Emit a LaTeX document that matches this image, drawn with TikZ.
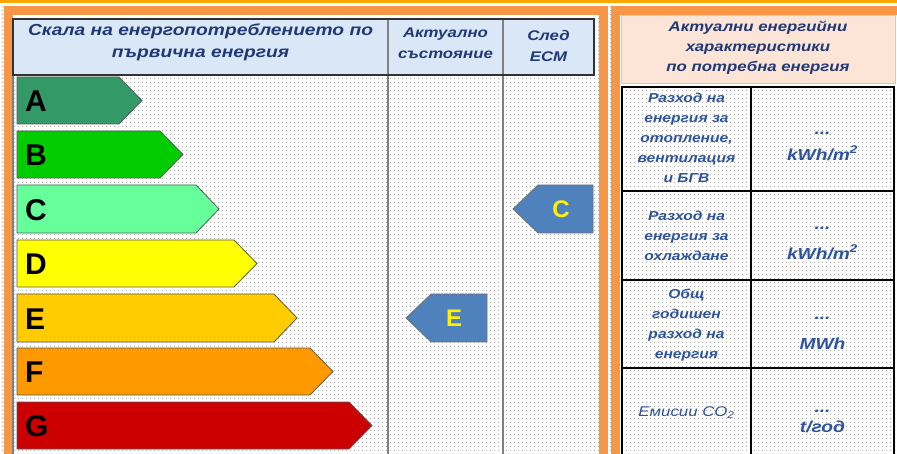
\documentclass[tikz,border=0pt]{standalone}
\usepackage{fontspec}
\usepackage{xcolor}
\usepackage{tikz}
\setmainfont{Liberation Sans}
\newfontfamily\widefont{Liberation Sans}[FakeStretch=1.2]
\usetikzlibrary{
    calc,
    patterns.meta,
    positioning,
}
\definecolor{classA}{RGB}{51,153,102}
\definecolor{classB}{RGB}{0,204,0}
\definecolor{classC}{RGB}{102,255,153}
\definecolor{classD}{RGB}{255,255,0}
\definecolor{classE}{RGB}{255,204,0}
\definecolor{classF}{RGB}{255,153,0}
\definecolor{classG}{RGB}{204,0,0}
\definecolor{markerBlue}{RGB}{79,129,189}
\definecolor{frameOrange}{RGB}{247,150,70}
\definecolor{headBlue}{RGB}{218,231,246}
\definecolor{headPeach}{RGB}{252,228,214}
\definecolor{textBlue}{RGB}{32,56,118}
\definecolor{labelBlue}{RGB}{44,84,160}

\begin{document}
\begin{tikzpicture}[x=1pt,y=-1pt]

                \tikzstyle{commonText}=[align=center, inner sep=0pt, text=textBlue]
                \tikzstyle{headText}=[commonText, font=\widefont\bfseries\itshape\fontsize{16}{22}\selectfont]
                \tikzstyle{colText}=[commonText, font=\widefont\bfseries\itshape\fontsize{14}{21}\selectfont]
                \tikzstyle{charText}=[commonText, font=\widefont\bfseries\itshape\fontsize{14}{20}\selectfont]
                \tikzstyle{rowText}=[commonText, text=labelBlue, font=\widefont\bfseries\itshape\fontsize{13}{20}\selectfont]
                \tikzstyle{valueText}=[commonText, text=labelBlue, font=\widefont\bfseries\itshape\fontsize{16}{20}\selectfont]
                \tikzstyle{classBar}=[draw=black!65, line width=0.8pt]
                \tikzstyle{classLetter}=[anchor=west, inner sep=0pt, font=\bfseries\fontsize{30}{30}\selectfont]
                \tikzstyle{marker}=[draw=black!55, line width=0.8pt, fill=markerBlue]
                \tikzstyle{markerLetter}=[inner sep=0pt, text=yellow, font=\bfseries\fontsize{24}{24}\selectfont]
                \tikzstyle{frame}=[draw=frameOrange, line width=9pt]
                \tikzstyle{gridLine}=[draw=gray, line width=1.2pt]
                \tikzstyle{tableLine}=[draw=black, line width=1.8pt]

                \useasboundingbox (0,0) rectangle (897,454);

                % Background and frames
                \fill[white] (0,0) rectangle (897,454);
                \fill[pattern={Dots[distance=4pt, radius=0.7pt]}, pattern color=gray!70] (0,0) rectangle (897,454);
                \draw[line width=3pt, draw=orange!70!yellow] (0,1.5) -- (897,1.5);
                \draw[frame] (8,470) -- (8,11) -- (603,11) -- (603,470);
                \draw[frame] (615,470) -- (615,11) -- (910,11);

                \begin{scope}

                    \def \barleft {17}
                    \def \tipdepth {23}

                    % Scale table
                    \fill[headBlue] (13,19) rectangle (594,75);
                    \draw[gridLine] (13,75) -- (13,454);
                    \draw[gridLine] (388,19) -- (388,454);
                    \draw[gridLine] (503,19) -- (503,454);
                    \draw[draw=black!80, line width=1.2pt] (13,19) rectangle (594,75);

                    \node at (200.5,42) [headText] (scale) {Скала на енергопотреблението по\\първична енергия};
                    \node at (445.5,43.5) [colText] (now) {Актуално\\състояние};
                    \node at (548.5,46) [colText] (after) {След\\ЕСМ};

                    % Energy classes
                    \draw[classBar, fill=classA] (\barleft,77) -- (142-\tipdepth,77) -- (142,100.5) -- (142-\tipdepth,124) -- (\barleft,124) -- cycle;
                    \draw[classBar, fill=classB] (\barleft,131) -- (183-\tipdepth,131) -- (183,154.5) -- (183-\tipdepth,178) -- (\barleft,178) -- cycle;
                    \draw[classBar, fill=classC] (\barleft,185) -- (219-\tipdepth,185) -- (219,209) -- (219-\tipdepth,233) -- (\barleft,233) -- cycle;
                    \draw[classBar, fill=classD] (\barleft,240) -- (257-\tipdepth,240) -- (257,263.5) -- (257-\tipdepth,287) -- (\barleft,287) -- cycle;
                    \draw[classBar, fill=classE] (\barleft,294) -- (297-\tipdepth,294) -- (297,318) -- (297-\tipdepth,342) -- (\barleft,342) -- cycle;
                    \draw[classBar, fill=classF] (\barleft,348) -- (333-\tipdepth,348) -- (333,371.5) -- (333-\tipdepth,395) -- (\barleft,395) -- cycle;
                    \draw[classBar, fill=classG] (\barleft,402) -- (372-\tipdepth,402) -- (372,425.5) -- (372-\tipdepth,449) -- (\barleft,449) -- cycle;

                    \node at (25,101.5) [classLetter] (clsA) {A};
                    \node at (25,155.5) [classLetter] (clsB) {B};
                    \node at (25,210) [classLetter] (clsC) {C};
                    \node at (25,264.5) [classLetter] (clsD) {D};
                    \node at (25,319) [classLetter] (clsE) {E};
                    \node at (25,372.5) [classLetter] (clsF) {F};
                    \node at (25,426.5) [classLetter] (clsG) {G};

                    % Markers
                    \draw[marker] (406,318) -- (406+\tipdepth+2,294) -- (487,294) -- (487,342) -- (406+\tipdepth+2,342) -- cycle;
                    \node at (454,318) [markerLetter] (markNow) {E};
                    \draw[marker] (513,209) -- (513+\tipdepth+2,185) -- (593,185) -- (593,233) -- (513+\tipdepth+2,233) -- cycle;
                    \node at (561,209) [markerLetter] (markAfter) {C};
                \end{scope}

                \begin{scope}

                    % Characteristics table
                    \fill[headPeach] (621,15) rectangle (895,83);
                    \draw[draw=gray!40, line width=0.6pt] (621,15) rectangle (895,83);
                    \node at (758,47.5) [charText] (chars) {Актуални енергийни\\характеристики\\по потребна енергия};

                    \draw[tableLine] (622,87) rectangle (894,470);
                    \draw[tableLine] (751,87) -- (751,454);
                    \draw[tableLine] (622,191) -- (894,191);
                    \draw[tableLine] (622,280) -- (894,280);
                    \draw[tableLine] (622,368) -- (894,368);

                    \node at (686.5,138) [rowText] (heat) {Разход на\\енергия за\\отопление,\\вентилация\\и БГВ};
                    \node at (822.5,146) [valueText] (heatVal) {...\\[6pt]kWh/m\textsuperscript{2}};
                    \node at (686.5,236) [rowText] (cool) {Разход на\\енергия за\\охлаждане};
                    \node at (822.5,243) [valueText] (coolVal) {...\\[10pt]kWh/m\textsuperscript{2}};
                    \node at (686.5,325) [rowText] (total) {Общ\\годишен\\разход на\\енергия};
                    \node at (822.5,333) [valueText] (totalVal) {...\\[10pt]MWh};
                    \node at (686.5,413) [rowText, font=\widefont\itshape\fontsize{14}{20}\selectfont] (emis) {Емисии CO\textsubscript{2}};
                    \node at (822.5,421) [valueText] (emisVal) {...\\t/год};
                \end{scope}
            \end{tikzpicture}
\end{document}
